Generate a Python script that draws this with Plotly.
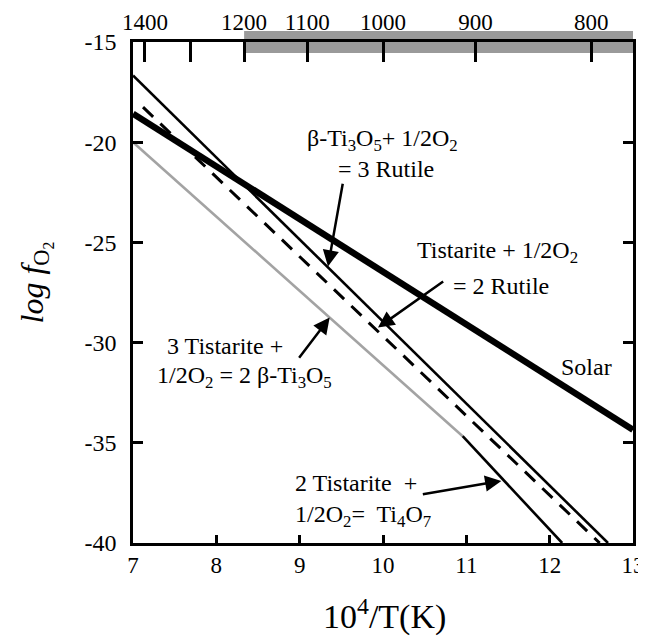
import plotly.graph_objects as go

# ---- data ----
x_range = [7, 13]
y_range = [-40, -15]

solar_x = [7.0, 13.0]
solar_y = [-18.58, -34.35]

ti3o5_rutile_x = [7.0, 12.7]          # beta-Ti3O5 + 1/2 O2 = 3 Rutile
ti3o5_rutile_y = [-16.67, -40.0]

tistarite_rutile_x = [7.12, 12.6]     # Tistarite + 1/2 O2 = 2 Rutile (dashed)
tistarite_rutile_y = [-18.25, -40.0]

tist_ti3o5_x = [7.0, 10.956]          # 3 Tistarite + 1/2 O2 = 2 beta-Ti3O5 (grey)
tist_ti3o5_y = [-20.0, -34.67]

tist_ti4o7_x = [10.956, 12.15]        # 2 Tistarite + 1/2 O2 = Ti4O7
tist_ti4o7_y = [-34.67, -40.0]

y_ticks = [-15, -20, -25, -30, -35, -40]
y_ticktext = ["-15", "-20", "-25", "-30", "-35", "-40"]
x_ticks = [7, 8, 9, 10, 11, 12, 13]

top_temps_K = [1400, 1300, 1200, 1100, 1000, 900, 800]
top_labels = ["1400", "", "1200", "1100", "1000", "900", "800"]
band_start_T = 1200

FONT = "Liberation Serif, Times New Roman, DejaVu Serif, serif"
TICK = dict(family=FONT, size=24, color="black")

# the page body adds an 8px margin, so the figure is 8px smaller and shifted
PAGE_OFFSET = 8

fig = go.Figure()

line_w = 2.6
fig.add_trace(go.Scatter(x=tist_ti3o5_x, y=tist_ti3o5_y, mode="lines",
                         line=dict(color="#a3a3a3", width=line_w), hoverinfo="skip"))
fig.add_trace(go.Scatter(x=tist_ti4o7_x, y=tist_ti4o7_y, mode="lines",
                         line=dict(color="black", width=line_w), hoverinfo="skip"))
fig.add_trace(go.Scatter(x=tistarite_rutile_x, y=tistarite_rutile_y, mode="lines",
                         line=dict(color="black", width=3, dash="14px,10px"), hoverinfo="skip"))
fig.add_trace(go.Scatter(x=ti3o5_rutile_x, y=ti3o5_rutile_y, mode="lines",
                         line=dict(color="black", width=line_w), hoverinfo="skip"))
fig.add_trace(go.Scatter(x=solar_x, y=solar_y, mode="lines",
                         line=dict(color="black", width=6.5), hoverinfo="skip"))
# invisible trace on the top axis so it is drawn
fig.add_trace(go.Scatter(x=x_range, y=y_range, xaxis="x2", mode="markers",
                         marker=dict(opacity=0), hoverinfo="skip"))

top_vals = [1e4 / t for t in top_temps_K]

fig.update_layout(
    width=646 - PAGE_OFFSET, height=643 - PAGE_OFFSET,
    margin=dict(l=133 - PAGE_OFFSET, r=13, t=42 - PAGE_OFFSET, b=100, pad=0),
    paper_bgcolor="white", plot_bgcolor="rgba(0,0,0,0)",
    showlegend=False,
    font=dict(family=FONT, color="black", size=22),
    xaxis=dict(range=x_range, tickvals=x_ticks, ticks="inside", ticklen=8,
               tickwidth=2.5, tickcolor="black", showline=True, linewidth=2.5,
               linecolor="black", showgrid=False, zeroline=False, automargin=False,
               tickfont=dict(family=FONT, size=23, color="black")),
    xaxis2=dict(range=x_range, overlaying="x", side="top", tickvals=top_vals,
                ticktext=top_labels, ticks="inside", ticklen=20, tickwidth=2.5,
                tickcolor="black", showline=True, linewidth=2.5, linecolor="black",
                showgrid=False, zeroline=False, automargin=False,
                ticklabelstandoff=0, tickfont=dict(family=FONT, size=23, color="black")),
    yaxis=dict(range=y_range, tickvals=y_ticks, ticktext=y_ticktext, ticks="inside",
               ticklen=10, tickwidth=2.5, tickcolor="black", showline=True,
               linewidth=2.5, linecolor="black", mirror="ticks", showgrid=False,
               zeroline=False, automargin=False, ticklabelstandoff=9, tickfont=TICK),
)

# grey band along the top axis (T < 1200 K)
band_x0 = (1e4 / band_start_T - x_range[0]) / (x_range[1] - x_range[0])
fig.add_shape(type="rect", xref="paper", yref="paper", x0=band_x0, x1=1.0,
              y0=0.978, y1=1.022, fillcolor="#9a9a9a", line=dict(width=0), layer="below")

ann_font = dict(family=FONT, size=24, color="black")

def label(x, y, text):
    fig.add_annotation(x=x, y=y, xref="x", yref="y", text=text, showarrow=False,
                       font=ann_font, xanchor="center", yanchor="middle")

def arrow(x_tail, y_tail, x_tip, y_tip):
    fig.add_annotation(x=x_tip, y=y_tip, ax=x_tail, ay=y_tail, xref="x", yref="y",
                       axref="x", ayref="y", text="", showarrow=True,
                       arrowhead=2, arrowsize=1.3, arrowwidth=2.5, arrowcolor="black")

label(9.99, -19.9, "β-Ti<sub>3</sub>O<sub>5</sub>+ 1/2O<sub>2</sub>")
label(10.03, -21.35, "= 3 Rutile")
arrow(9.52, -22.0, 9.34, -26.2)

label(11.37, -25.5, "Tistarite + 1/2O<sub>2</sub>")
label(11.41, -27.2, "= 2 Rutile")
arrow(10.74, -26.9, 9.94, -29.25)

label(12.44, -31.2, "Solar")

label(8.10, -30.17, "3 Tistarite +")
label(8.34, -31.7, "1/2O<sub>2</sub> = 2 β-Ti<sub>3</sub>O<sub>5</sub>")
arrow(8.98, -30.83, 9.36, -28.75)

label(9.67, -37.0, "2 Tistarite  +")
label(9.76, -38.65, "1/2O<sub>2</sub>=  Ti<sub>4</sub>O<sub>7</sub>")
arrow(10.46, -37.58, 11.42, -36.9)

# axis titles
fig.add_annotation(xref="paper", yref="paper", x=-0.196, y=0.52,
                   text="<i>log f</i><sub>O<sub>2</sub></sub>", showarrow=False,
                   textangle=-90, font=dict(family=FONT, size=32, color="black"),
                   xanchor="center", yanchor="middle")
fig.add_annotation(xref="paper", yref="paper", x=0.503, y=-0.143,
                   text="10<sup>4</sup>/T(K)", showarrow=False,
                   font=dict(family=FONT, size=34, color="black"),
                   xanchor="center", yanchor="middle")

fig.write_html("out.html")
